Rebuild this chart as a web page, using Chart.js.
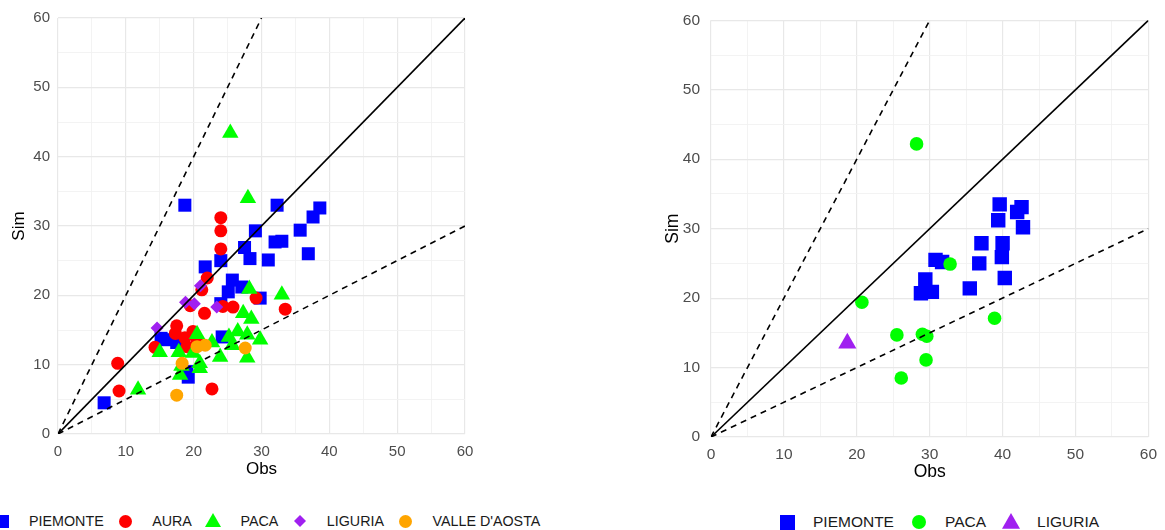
<!DOCTYPE html>
<html>
<head>
<meta charset="utf-8">
<title>Obs vs Sim</title>
<script src="https://cdn.jsdelivr.net/npm/chart.js@4.4.1/dist/chart.umd.min.js"></script>
<style>
  body {
    margin: 0;
    width: 1165px;
    height: 530px;
    overflow: hidden;
    position: relative;
    background: #fff;
    font-family: "Liberation Sans", Arial, sans-serif;
  }
  .panel { position: absolute; top: 0; }
  .legend {
    position: absolute;
    display: flex;
    align-items: center;
    white-space: nowrap;
    color: #1a1a1a;
    transform: translateY(-50%);
  }
  .legend .key { display: flex; align-items: center; justify-content: center; flex: none; }
</style>
</head>
<body>
<canvas id="obs-sim-left" class="panel" width="560" height="486" style="left:0"></canvas>
<canvas id="obs-sim-right" class="panel" width="525" height="490" style="left:640px"></canvas>
<div id="legend-left" class="legend"></div>
<div id="legend-right" class="legend"></div>

<script>
// ---- data: [obs, sim] pairs per region ----
const leftPiemonte = [
  [6.8, 4.5], [18.7, 33.0], [32.3, 33.0], [38.6, 32.6], [37.6, 31.3], [35.7, 29.4],
  [29.1, 29.3], [33.0, 27.8], [32.0, 27.7], [27.5, 26.9], [36.9, 26.0], [28.3, 25.3],
  [31.0, 25.1], [24.0, 25.0], [21.7, 24.1], [25.7, 22.2], [27.1, 21.2], [25.1, 20.5],
  [29.8, 19.6], [24.0, 18.8], [24.2, 14.0], [16.1, 13.6], [17.5, 13.2], [15.2, 13.8],
  [19.2, 8.2], [19.0, 9.0]
];
const leftAura = [
  [24.0, 31.2], [24.0, 29.3], [24.0, 26.7], [22.0, 22.5], [21.2, 20.8], [19.5, 18.5],
  [21.6, 17.4], [24.3, 18.4], [25.8, 18.3], [29.2, 19.6], [33.5, 18.0], [17.5, 15.6],
  [17.3, 14.5], [18.7, 13.9], [19.9, 14.8], [19.0, 12.6], [14.3, 12.5], [8.8, 10.2],
  [9.0, 6.2], [22.7, 6.5], [20.5, 13.5]
];
const leftPaca = [
  [25.4, 43.4], [28.0, 34.0], [33.0, 20.1], [28.2, 20.9], [27.3, 17.4], [28.5, 16.6],
  [26.5, 14.8], [27.9, 14.3], [29.8, 13.6], [25.2, 14.0], [25.7, 12.8], [23.9, 11.1],
  [27.9, 11.0], [22.7, 13.2], [20.5, 14.4], [15.0, 11.8], [17.8, 11.8], [19.9, 11.7],
  [20.9, 10.2], [18.2, 9.8], [18.0, 8.5], [11.8, 6.4], [20.9, 9.5]
];
const leftLiguria = [[21.0, 21.4], [18.8, 19.0], [20.1, 18.8], [23.4, 18.3], [14.6, 15.3]];
const leftValle = [[20.5, 12.6], [21.7, 12.8], [27.6, 12.4], [18.3, 10.2], [17.5, 5.6]];

const rightPiemonte = [
  [39.6, 33.5], [42.6, 33.1], [42.0, 32.4], [39.4, 31.2], [42.8, 30.2], [37.1, 27.9],
  [40.0, 27.9], [30.8, 25.5], [31.7, 25.2], [39.9, 25.9], [36.8, 25.0], [29.4, 22.7],
  [40.3, 22.9], [35.5, 21.4], [30.3, 20.9], [28.8, 20.7]
];
const rightPaca = [
  [28.2, 42.2], [32.8, 24.9], [20.7, 19.4], [38.9, 17.1], [25.5, 14.7], [29.0, 14.8],
  [29.6, 14.5], [29.5, 11.1], [26.1, 8.5]
];
const rightLiguria = [[18.7, 13.5]];

// reference lines: 1:1, 2:1 and 1:2
const lineOneToOne = [[0, 0], [60, 60]];
const lineDouble = [[0, 0], [30, 60]];
const lineHalf = [[0, 0], [60, 30]];

const axisTicks = [0, 10, 20, 30, 40, 50, 60];

const COLORS = {
  PIEMONTE: '#0000ff',
  AURA: '#ff0000',
  PACA: '#00ff00',
  LIGURIA: '#a020f0',
  "VALLE D'AOSTA": '#ffa500'
};

const toXY = pairs => pairs.map(p => ({ x: p[0], y: p[1] }));

function pointSet(label, pairs, style, radius, order) {
  return {
    label: label,
    data: toXY(pairs),
    pointStyle: style,
    pointRadius: radius,
    pointHoverRadius: radius,
    pointBackgroundColor: COLORS[label],
    pointBorderWidth: 0,
    showLine: false,
    order: order
  };
}

function refLine(pairs, dashed) {
  return {
    type: 'line',
    data: toXY(pairs),
    borderColor: '#000',
    borderWidth: 1.6,
    borderDash: dashed ? [6, 5] : [],
    pointRadius: 0,
    fill: false,
    order: 0
  };
}

function axis(title, isY, s) {
  return {
    type: 'linear',
    min: axisTicks[0],
    max: axisTicks[axisTicks.length - 1],
    afterBuildTicks: scale => {
      // major ticks every 10, minor grid every 5
      const vals = [];
      for (let i = 0; i < axisTicks.length; i++) {
        vals.push({ value: axisTicks[i] });
        if (i < axisTicks.length - 1) vals.push({ value: (axisTicks[i] + axisTicks[i + 1]) / 2, minor: true });
      }
      scale.ticks = vals;
    },
    ticks: {
      autoSkip: false,
      maxRotation: 0,
      padding: isY ? s.yTickPad : s.xTickPad,
      color: '#4d4d4d',
      font: { size: s.tickSize, family: '"Liberation Sans", Arial, sans-serif' },
      callback: v => (axisTicks.includes(v) ? v : '')
    },
    grid: {
      drawTicks: false,
      color: ctx => (ctx.tick && axisTicks.includes(ctx.tick.value) ? '#e8e8e8' : '#f2f2f2'),
      lineWidth: ctx => (ctx.tick && axisTicks.includes(ctx.tick.value) ? 1.2 : 0.9)
    },
    border: { display: false },
    title: {
      display: true,
      text: title,
      color: '#000',
      font: { size: s.titleSize, family: '"Liberation Sans", Arial, sans-serif' },
      padding: isY ? { top: s.yTitlePad, bottom: 0 } : { top: 0, bottom: s.xTitlePad }
    },
    afterFit: scale => {
      if (isY) scale.width = s.yAxisWidth;
      else scale.height = s.xAxisHeight;
    }
  };
}

function makeChart(canvasId, datasets, s) {
  const ctx = document.getElementById(canvasId).getContext('2d');
  return new Chart(ctx, {
    type: 'scatter',
    data: { datasets: datasets },
    options: {
      responsive: false,
      animation: false,
      devicePixelRatio: 1,
      layout: { padding: { top: s.padTop, right: s.padRight, left: 0, bottom: 0 } },
      plugins: { legend: { display: false }, tooltip: { enabled: false } },
      scales: {
        x: axis('Obs', false, s),
        y: axis('Sim', true, s)
      }
    }
  });
}

// ---- left panel: five regions ----
makeChart('obs-sim-left', [
  refLine(lineOneToOne, false),
  refLine(lineDouble, true),
  refLine(lineHalf, true),
  pointSet("VALLE D'AOSTA", leftValle, 'circle', 6.5, 1),
  pointSet('LIGURIA', leftLiguria, 'rectRot', 6.5, 2),
  pointSet('PACA', leftPaca, 'triangle', 9.5, 3),
  pointSet('AURA', leftAura, 'circle', 6.5, 4),
  pointSet('PIEMONTE', leftPiemonte, 'rect', 9.2, 5)
], {
  padTop: 18, padRight: 95, yAxisWidth: 58, xAxisHeight: 52,
  yTickPad: 8, xTickPad: 9, tickSize: 15, titleSize: 17,
  yTitlePad: 9, xTitlePad: 6
});

// ---- right panel: three regions ----
makeChart('obs-sim-right', [
  refLine(lineOneToOne, false),
  refLine(lineDouble, true),
  refLine(lineHalf, true),
  pointSet('LIGURIA', rightLiguria, 'triangle', 10.5, 1),
  pointSet('PACA', rightPaca, 'circle', 6.8, 2),
  pointSet('PIEMONTE', rightPiemonte, 'rect', 10.2, 3)
], {
  padTop: 20, padRight: 13, yAxisWidth: 71, xAxisHeight: 53,
  yTickPad: 11, xTickPad: 8, tickSize: 15.5, titleSize: 17.5,
  yTitlePad: 23, xTitlePad: 7
});

// ---- legends ----
function markerSvg(shape, color, size) {
  const h = size / 2;
  let body;
  if (shape === 'rect') body = `<rect x="0" y="0" width="${size}" height="${size}" fill="${color}"/>`;
  else if (shape === 'circle') body = `<circle cx="${h}" cy="${h}" r="${h}" fill="${color}"/>`;
  else if (shape === 'triangle') body = `<polygon points="${h},0 ${size},${size * 0.87} 0,${size * 0.87}" fill="${color}"/>`;
  else body = `<polygon points="${h},0 ${size},${h} ${h},${size} 0,${h}" fill="${color}"/>`;
  return `<svg width="${size}" height="${size}" viewBox="0 0 ${size} ${size}">${body}</svg>`;
}

function buildLegend(id, items, cfg) {
  const el = document.getElementById(id);
  el.style.left = cfg.left + 'px';
  el.style.top = cfg.top + 'px';
  el.style.fontSize = cfg.fontSize + 'px';
  items.forEach((it, i) => {
    const key = document.createElement('span');
    key.className = 'key';
    key.style.width = cfg.keyWidth + 'px';
    key.style.marginLeft = i === 0 ? '0' : cfg.itemGap + 'px';
    key.innerHTML = markerSvg(it.shape, COLORS[it.label], it.size);
    const txt = document.createElement('span');
    txt.textContent = it.label;
    txt.style.marginLeft = cfg.textGap + 'px';
    el.appendChild(key);
    el.appendChild(txt);
  });
}

buildLegend('legend-left', [
  { label: 'PIEMONTE', shape: 'rect', size: 13 },
  { label: 'AURA', shape: 'circle', size: 13 },
  { label: 'PACA', shape: 'triangle', size: 16 },
  { label: 'LIGURIA', shape: 'diamond', size: 12 },
  { label: "VALLE D'AOSTA", shape: 'circle', size: 13 }
], { left: -8, top: 521, fontSize: 14.3, keyWidth: 20, textGap: 17, itemGap: 11.5 });

buildLegend('legend-right', [
  { label: 'PIEMONTE', shape: 'rect', size: 15 },
  { label: 'PACA', shape: 'circle', size: 14 },
  { label: 'LIGURIA', shape: 'triangle', size: 18 }
], { left: 776, top: 522, fontSize: 15.5, keyWidth: 22, textGap: 15, itemGap: 14 });
</script>
</body>
</html>
